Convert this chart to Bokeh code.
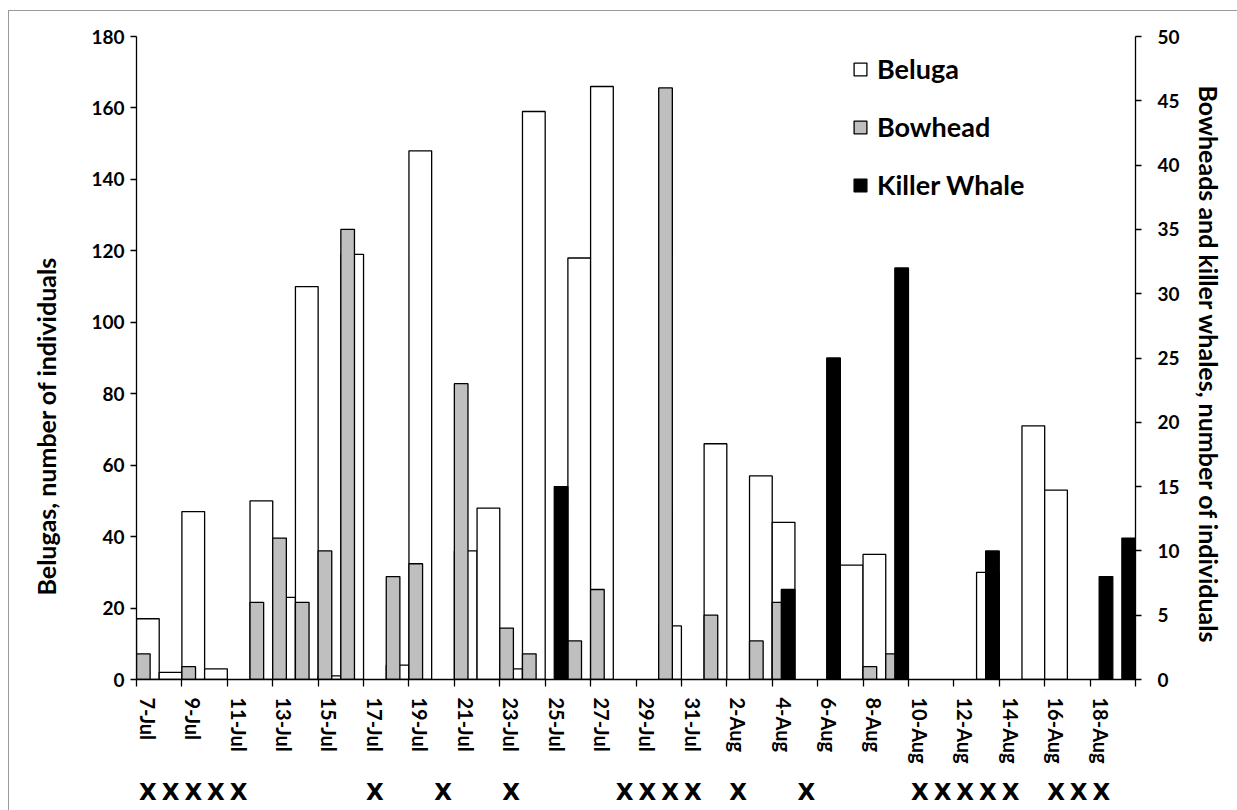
from bokeh.plotting import figure
from bokeh.models import (Range1d, LinearAxis, FixedTicker, Legend, LegendItem, ColumnDataSource,
                          Title, InlineStyleSheet)
from bokeh.embed import file_html
from bokeh.resources import INLINE

# ---- data (one value per day, 7-Jul .. 19-Aug) ----
day_labels = ["7-Jul", "8-Jul", "9-Jul", "10-Jul", "11-Jul", "12-Jul", "13-Jul", "14-Jul", "15-Jul",
              "16-Jul", "17-Jul", "18-Jul", "19-Jul", "20-Jul", "21-Jul", "22-Jul", "23-Jul", "24-Jul",
              "25-Jul", "26-Jul", "27-Jul", "28-Jul", "29-Jul", "30-Jul", "31-Jul", "1-Aug", "2-Aug",
              "3-Aug", "4-Aug", "5-Aug", "6-Aug", "7-Aug", "8-Aug", "9-Aug", "10-Aug", "11-Aug",
              "12-Aug", "13-Aug", "14-Aug", "15-Aug", "16-Aug", "17-Aug", "18-Aug", "19-Aug"]
beluga = [17, 2, 47, 3, 0, 50, 23, 110, 1, 119, 0, 4, 148, 0, 36, 48, 3, 159, 0, 118, 166, 0,
          0, 15, 0, 66, 0, 57, 44, 0, 0, 32, 35, 0, 0, 0, 0, 30, 0, 71, 53, 0, 0, 0]
bowhead = [2, 0, 1, 0, 0, 6, 11, 6, 10, 35, 0, 8, 9, 0, 23, 0, 4, 2, 0, 3, 7, 0,
           0, 46, 0, 5, 0, 3, 6, 0, 0, 0, 1, 2, 0, 0, 0, 0, 0, 0, 0, 0, 0, 0]
killer = [0, 0, 0, 0, 0, 0, 0, 0, 0, 0, 0, 0, 0, 0, 0, 0, 0, 0, 15, 0, 0, 0,
          0, 0, 0, 0, 0, 0, 7, 0, 25, 0, 0, 32, 0, 0, 0, 10, 0, 0, 0, 0, 8, 11]
# days marked with an X under the axis
x_mark_days = ["7-Jul", "8-Jul", "9-Jul", "10-Jul", "11-Jul", "17-Jul", "20-Jul", "23-Jul",
               "28-Jul", "29-Jul", "30-Jul", "31-Jul", "2-Aug", "5-Aug", "10-Aug", "11-Aug",
               "12-Aug", "13-Aug", "14-Aug", "16-Aug", "17-Aug", "18-Aug"]
left_ticks = [0, 20, 40, 60, 80, 100, 120, 140, 160, 180]
right_ticks = [0, 5, 10, 15, 20, 25, 30, 35, 40, 45, 50]

FONT = "Lato"
n = len(day_labels)

css = InlineStyleSheet(css=""":host {
  background:
    linear-gradient(#9a9a9a, #9a9a9a) 8px 10px / 1px 800px no-repeat,
    linear-gradient(#9a9a9a, #9a9a9a) 8px 10px / 1229px 1px no-repeat,
    white;
}""")

p = figure(width=1237, height=810, output_backend="svg", toolbar_location=None,
           x_range=Range1d(0, n), y_range=Range1d(left_ticks[0], left_ticks[-1]),
           min_border_left=136, min_border_right=102, min_border_top=36, min_border_bottom=131,
           x_axis_location=None, y_axis_location=None, stylesheets=[css])
p.extra_y_ranges = {"right": Range1d(right_ticks[0], right_ticks[-1])}
p.xgrid.visible = False
p.ygrid.visible = False
p.outline_line_color = None
p.background_fill_color = "white"
p.border_fill_alpha = 0

def src(vals, offset):
    xs, ys = [], []
    for i, v in enumerate(vals):
        if v > 0:
            xs.append(i + offset)
            ys.append(v)
    return ColumnDataSource(dict(x=xs, top=ys))

LW = 1.3
r_bel = p.vbar(x="x", top="top", width=1.0, bottom=0, source=src(beluga, 0.5),
               fill_color="white", line_color="black", line_width=LW)
r_bow = p.vbar(x="x", top="top", width=0.6, bottom=0, source=src(bowhead, 0.3),
               fill_color="#bfbfbf", line_color="black", line_width=LW, y_range_name="right")
r_kil = p.vbar(x="x", top="top", width=0.6, bottom=0, source=src(killer, 0.7),
               fill_color="black", line_color="black", line_width=LW, y_range_name="right")

def style_axis(ax, size="19px", font=FONT):
    ax.major_label_text_font = font
    ax.major_label_text_font_style = "bold"
    ax.major_label_text_font_size = size
    ax.major_label_text_color = "black"
    ax.axis_line_color = "black"
    ax.axis_line_width = LW
    ax.major_tick_line_color = "black"
    ax.major_tick_line_width = LW

def style_title(t):
    t.text_font = FONT
    t.text_font_style = "bold"
    t.text_font_size = "25px"
    t.text_color = "black"

# left axis
yl = LinearAxis(ticker=FixedTicker(ticks=left_ticks))
style_axis(yl)
yl.major_tick_out = 6
yl.major_tick_in = 0
yl.minor_tick_line_color = None
yl.major_label_standoff = 6
p.add_layout(yl, "left")
tl = Title(text="Belugas, number of individuals", align="left", offset=84, standoff=55)
style_title(tl)
p.add_layout(tl, "left")

# right axis
yr = LinearAxis(ticker=FixedTicker(ticks=right_ticks), y_range_name="right")
style_axis(yr)
yr.major_tick_out = 6
yr.major_tick_in = 0
yr.minor_tick_line_color = None
yr.major_label_standoff = 16
p.add_layout(yr, "right")
tr = Title(text="Bowheads and killer whales, number of individuals", align="left", offset=49, standoff=23)
style_title(tr)
p.add_layout(tr, "right")

# bottom axis: tick marks between every second day, labels on every second day
label_pos = [i + 0.5 for i in range(0, n, 2)]
xb = LinearAxis(ticker=FixedTicker(ticks=label_pos, minor_ticks=list(range(0, n + 1, 2))))
style_axis(xb, size="20px")
xb.major_tick_out = 0
xb.major_tick_in = 0
xb.minor_tick_out = 7
xb.minor_tick_in = 0
xb.minor_tick_line_color = "black"
xb.minor_tick_line_width = LW
xb.major_label_overrides = {i + 0.5: day_labels[i] for i in range(0, n, 2)}
xb.major_label_orientation = "vertical"
xb.major_label_standoff = 11
p.add_layout(xb, "below")

# row of X marks
x_pos = [day_labels.index(d) + 0.5 for d in x_mark_days]
xm = LinearAxis(ticker=FixedTicker(ticks=x_pos, minor_ticks=[]))
style_axis(xm, size="23px", font="DejaVu Sans")
xm.axis_line_color = None
xm.major_tick_line_color = None
xm.minor_tick_line_color = None
xm.major_label_overrides = {v: "X" for v in x_pos}
xm.major_label_standoff = 6
p.add_layout(xm, "below")

legend = Legend(items=[LegendItem(label="Beluga", renderers=[r_bel]),
                       LegendItem(label="Bowhead", renderers=[r_bow]),
                       LegendItem(label="Killer Whale", renderers=[r_kil])],
                location=(716, 478), orientation="vertical",
                glyph_width=16, glyph_height=16, label_standoff=9, spacing=25,
                padding=0, margin=0, border_line_color=None, background_fill_alpha=0,
                label_text_font=FONT, label_text_font_style="bold", label_text_font_size="27px",
                label_text_color="black")
p.add_layout(legend)

open("out.html", "w").write(file_html(p, INLINE))
